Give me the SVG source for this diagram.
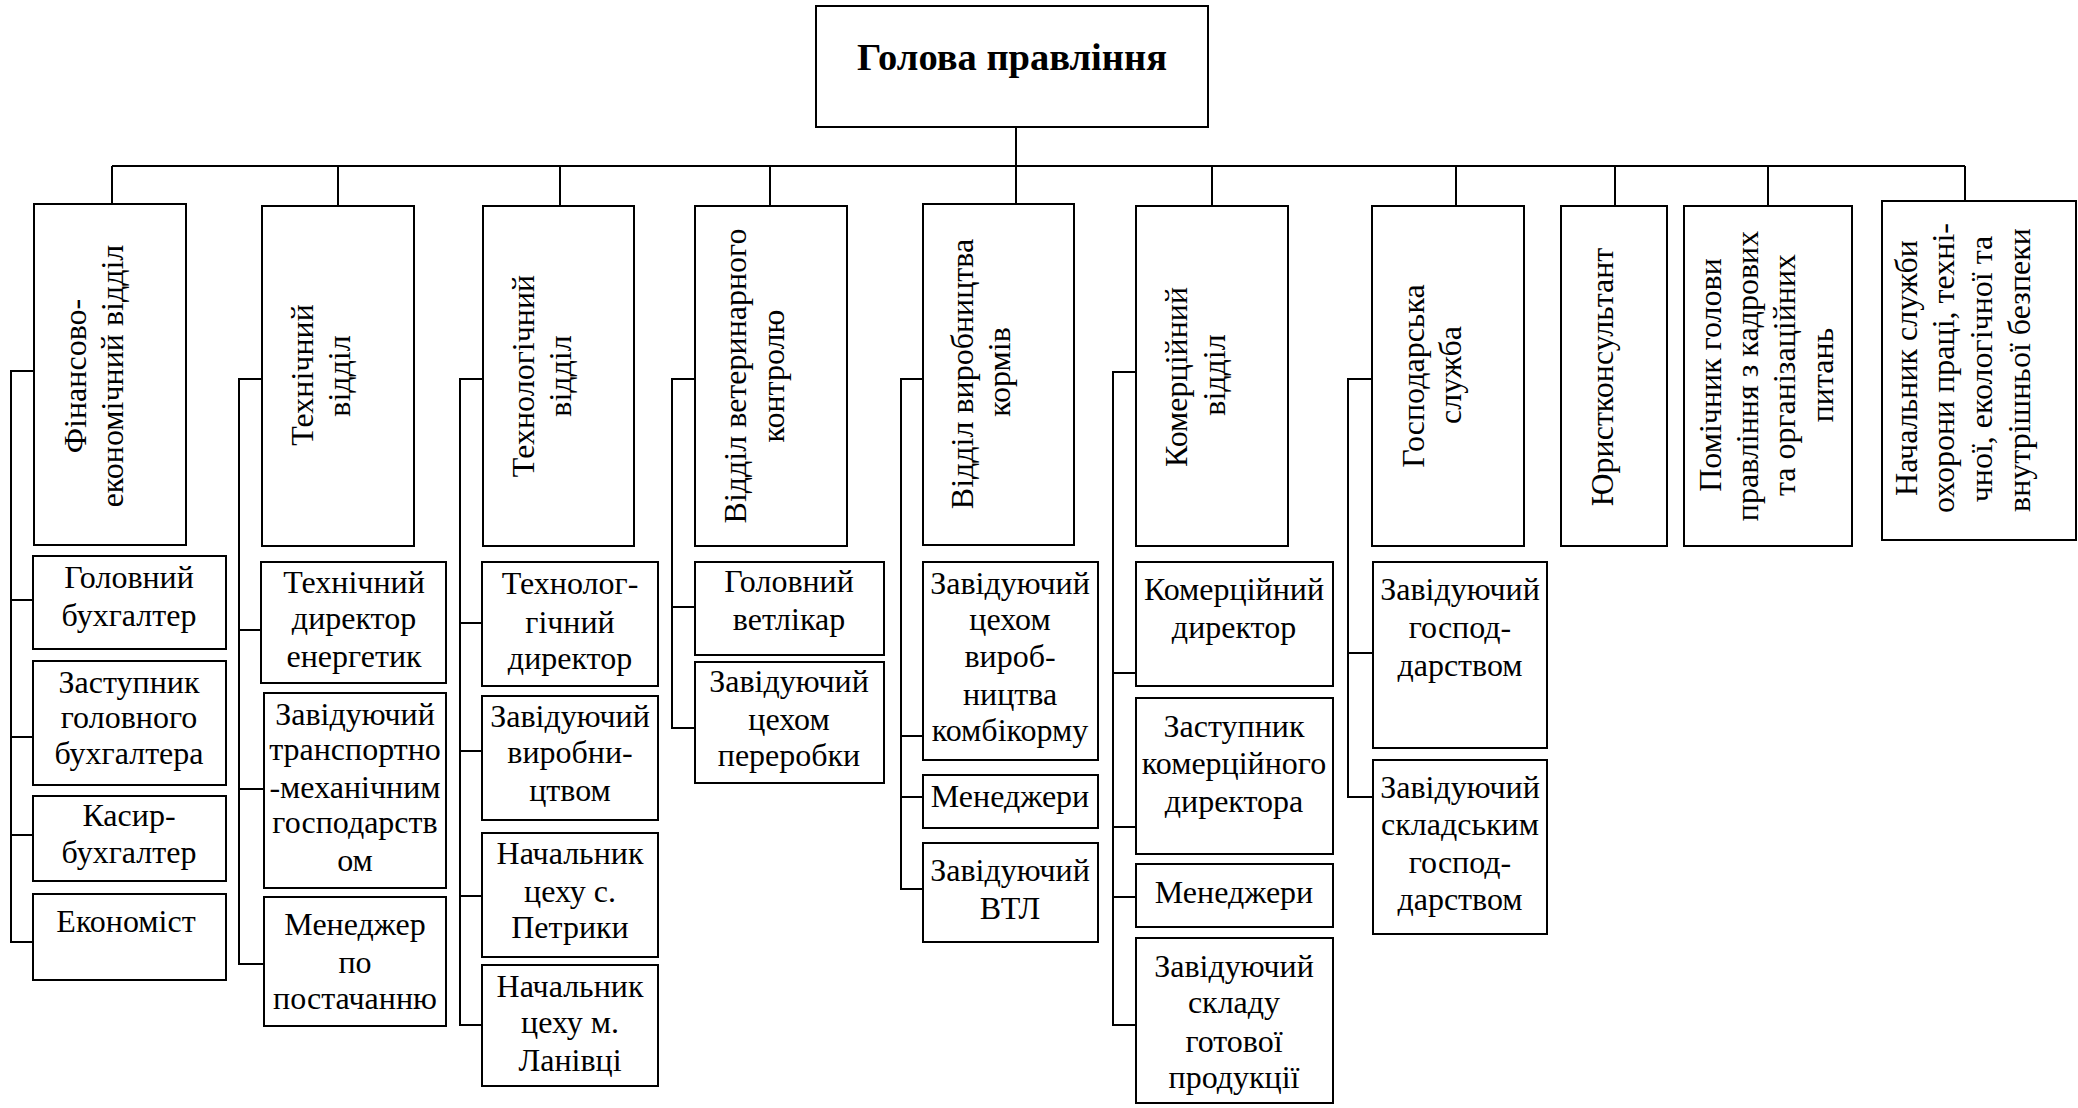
<svg xmlns="http://www.w3.org/2000/svg" width="2078" height="1108" viewBox="0 0 2078 1108">
<style>
.box{fill:#fff;stroke:#000;stroke-width:2}
.ln{fill:none;stroke:#000;stroke-width:2}
.t{font-family:'Liberation Serif','DejaVu Serif','Times New Roman',Times,serif;font-size:32px;text-anchor:middle;fill:#000}
.h{font-weight:bold;font-size:38.5px}
</style>
<rect width="2078" height="1108" fill="#fff"/>
<g id="connectors">
<path class="ln" d="M1016 127V166M112 166H1965"/>
<path class="ln" d="M112 166V204M338 166V206M560 166V206M770 166V206M1016 166V204M1212 166V206M1456 166V206M1615 166V206M1768 166V206M1965 166V201"/>
<path class="ln" d="M34 371H11V942H33M11 600H33M11 737H33M11 835H33"/>
<path class="ln" d="M262 379H239V964H264M239 630H261M239 789H264"/>
<path class="ln" d="M483 379H460V1025H482M460 623H482M460 751H482M460 896H482"/>
<path class="ln" d="M695 379H672V728H695M672 607H695"/>
<path class="ln" d="M923 379H901V889H923M901 736H923M901 797H923"/>
<path class="ln" d="M1136 372H1113V1025H1136M1113 673H1136M1113 827H1136M1113 897H1136"/>
<path class="ln" d="M1372 379H1348V797H1373M1348 653H1373"/>
</g>
<g id="head"><rect class="box" x="816" y="6" width="392" height="121"/><text class="t h" x="1012" y="70">Голова правління</text></g>
<g id="fin"><rect class="box" x="34" y="204" width="152" height="341"/>
<text class="t" transform="translate(86,376) rotate(-90)">Фінансово-</text>
<text class="t" transform="translate(123,376) rotate(-90)">економічний відділ</text></g>
<g id="tech"><rect class="box" x="262" y="206" width="152" height="340"/>
<text class="t" transform="translate(313,375) rotate(-90)">Технічний</text>
<text class="t" transform="translate(350,376) rotate(-90)">відділ</text></g>
<g id="techn"><rect class="box" x="483" y="206" width="151" height="340"/>
<text class="t" transform="translate(534,376) rotate(-90)">Технологічний</text>
<text class="t" transform="translate(571,376) rotate(-90)">відділ</text></g>
<g id="vet"><rect class="box" x="695" y="206" width="152" height="340"/>
<text class="t" transform="translate(746,376) rotate(-90)">Відділ ветеринарного</text>
<text class="t" transform="translate(784,376) rotate(-90)">контролю</text></g>
<g id="feed"><rect class="box" x="923" y="204" width="151" height="341"/>
<text class="t" transform="translate(973,374) rotate(-90)">Відділ виробництва</text>
<text class="t" transform="translate(1010,372) rotate(-90)">кормів</text></g>
<g id="comm"><rect class="box" x="1136" y="206" width="152" height="340"/>
<text class="t" transform="translate(1187,377) rotate(-90)">Комерційний</text>
<text class="t" transform="translate(1225,375) rotate(-90)">відділ</text></g>
<g id="gosp"><rect class="box" x="1372" y="206" width="152" height="340"/>
<text class="t" transform="translate(1424,376) rotate(-90)">Господарська</text>
<text class="t" transform="translate(1461,375) rotate(-90)">служба</text></g>
<g id="jur"><rect class="box" x="1561" y="206" width="106" height="340"/>
<text class="t" transform="translate(1613,377) rotate(-90)">Юристконсультант</text></g>
<g id="pom"><rect class="box" x="1684" y="206" width="168" height="340"/>
<text class="t" transform="translate(1721,375) rotate(-90)">Помічник голови</text>
<text class="t" transform="translate(1758,376) rotate(-90)">правління з кадрових</text>
<text class="t" transform="translate(1795,375) rotate(-90)">та організаційних</text>
<text class="t" transform="translate(1833,375) rotate(-90)">питань</text></g>
<g id="nach"><rect class="box" x="1882" y="201" width="194" height="339"/>
<text class="t" transform="translate(1917,368) rotate(-90)">Начальник служби</text>
<text class="t" transform="translate(1954,368) rotate(-90)">охорони праці, техні-</text>
<text class="t" transform="translate(1992,369) rotate(-90)">чної, екологічної та</text>
<text class="t" transform="translate(2030,370) rotate(-90)">внутрішньої безпеки</text></g>
<g id="fin1"><rect class="box" x="33" y="556" width="193" height="93"/><text class="t" x="129" y="588">Головний</text><text class="t" x="129" y="626">бухгалтер</text></g>
<g id="fin2"><rect class="box" x="33" y="661" width="193" height="124"/><text class="t" x="129" y="693">Заступник</text><text class="t" x="129" y="728">головного</text><text class="t" x="129" y="764">бухгалтера</text></g>
<g id="fin3"><rect class="box" x="33" y="796" width="193" height="85"/><text class="t" x="129" y="826">Касир-</text><text class="t" x="129" y="863">бухгалтер</text></g>
<g id="fin4"><rect class="box" x="33" y="894" width="193" height="86"/><text class="t" x="126" y="932">Економіст</text></g>
<g id="tech1"><rect class="box" x="261" y="562" width="185" height="121"/><text class="t" x="354" y="593">Технічний</text><text class="t" x="354" y="629">директор</text><text class="t" x="354" y="667">енергетик</text></g>
<g id="tech2"><rect class="box" x="264" y="693" width="182" height="195"/><text class="t" x="355" y="725">Завідуючий</text><text class="t" x="355" y="760">транспортно</text><text class="t" x="355" y="798">-механічним</text><text class="t" x="355" y="833">господарств</text><text class="t" x="355" y="871">ом</text></g>
<g id="tech3"><rect class="box" x="264" y="897" width="182" height="129"/><text class="t" x="355" y="935">Менеджер</text><text class="t" x="355" y="973">по</text><text class="t" x="355" y="1009">постачанню</text></g>
<g id="techn1"><rect class="box" x="482" y="562" width="176" height="124"/><text class="t" x="570" y="594">Технолог-</text><text class="t" x="570" y="633">гічний</text><text class="t" x="570" y="669">директор</text></g>
<g id="techn2"><rect class="box" x="482" y="696" width="176" height="124"/><text class="t" x="570" y="727">Завідуючий</text><text class="t" x="570" y="763">виробни-</text><text class="t" x="570" y="801">цтвом</text></g>
<g id="techn3"><rect class="box" x="482" y="833" width="176" height="124"/><text class="t" x="570" y="864">Начальник</text><text class="t" x="570" y="902">цеху с.</text><text class="t" x="570" y="938">Петрики</text></g>
<g id="techn4"><rect class="box" x="482" y="965" width="176" height="121"/><text class="t" x="570" y="997">Начальник</text><text class="t" x="570" y="1033">цеху м.</text><text class="t" x="570" y="1071">Ланівці</text></g>
<g id="vet1"><rect class="box" x="695" y="562" width="189" height="93"/><text class="t" x="789" y="592">Головний</text><text class="t" x="789" y="630">ветлікар</text></g>
<g id="vet2"><rect class="box" x="695" y="662" width="189" height="121"/><text class="t" x="789" y="692">Завідуючий</text><text class="t" x="789" y="730">цехом</text><text class="t" x="789" y="766">переробки</text></g>
<g id="feed1"><rect class="box" x="923" y="562" width="175" height="198"/><text class="t" x="1010" y="594">Завідуючий</text><text class="t" x="1010" y="630">цехом</text><text class="t" x="1010" y="667">вироб-</text><text class="t" x="1010" y="705">ництва</text><text class="t" x="1010" y="741">комбікорму</text></g>
<g id="feed2"><rect class="box" x="923" y="775" width="175" height="53"/><text class="t" x="1010" y="807">Менеджери</text></g>
<g id="feed3"><rect class="box" x="923" y="843" width="175" height="99"/><text class="t" x="1010" y="881">Завідуючий</text><text class="t" x="1010" y="919">ВТЛ</text></g>
<g id="comm1"><rect class="box" x="1136" y="562" width="197" height="124"/><text class="t" x="1234" y="600">Комерційний</text><text class="t" x="1234" y="638">директор</text></g>
<g id="comm2"><rect class="box" x="1136" y="698" width="197" height="156"/><text class="t" x="1234" y="737">Заступник</text><text class="t" x="1234" y="774">комерційного</text><text class="t" x="1234" y="812">директора</text></g>
<g id="comm3"><rect class="box" x="1136" y="864" width="197" height="63"/><text class="t" x="1234" y="903">Менеджери</text></g>
<g id="comm4"><rect class="box" x="1136" y="938" width="197" height="165"/><text class="t" x="1234" y="977">Завідуючий</text><text class="t" x="1234" y="1013">складу</text><text class="t" x="1234" y="1052">готової</text><text class="t" x="1234" y="1088">продукції</text></g>
<g id="gosp1"><rect class="box" x="1373" y="562" width="174" height="186"/><text class="t" x="1460" y="600">Завідуючий</text><text class="t" x="1460" y="638">господ-</text><text class="t" x="1460" y="676">дарством</text></g>
<g id="gosp2"><rect class="box" x="1373" y="760" width="174" height="174"/><text class="t" x="1460" y="798">Завідуючий</text><text class="t" x="1460" y="835">складським</text><text class="t" x="1460" y="873">господ-</text><text class="t" x="1460" y="910">дарством</text></g>
</svg>
